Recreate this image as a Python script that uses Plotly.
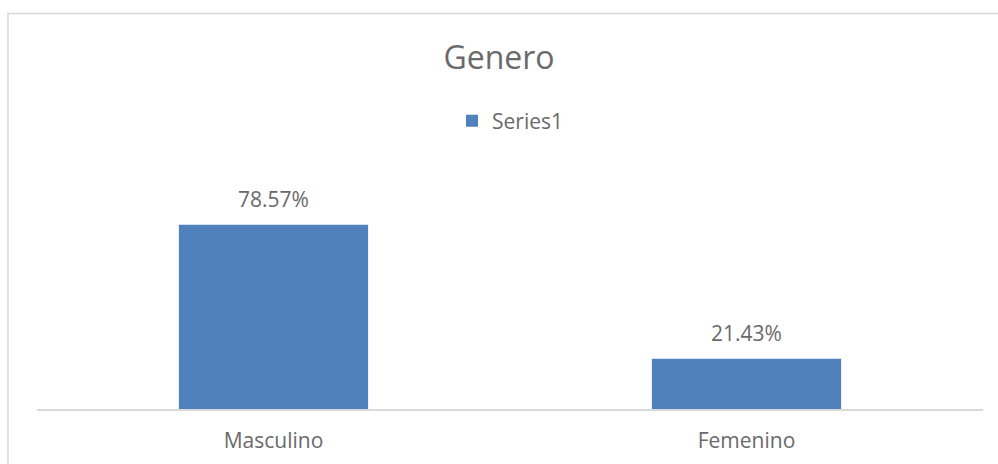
import plotly.graph_objects as go

# chart data
categories = ["Masculino", "Femenino"]
values = [78.57, 21.43]
series_name = "Series1"

BAR_COLOR = "#4f81bd"
TEXT_COLOR = "#6a6a6a"
LINE_COLOR = "#d9d9d9"
FONT = "Open Sans, Noto Sans, sans-serif"

fig = go.Figure()
fig.add_trace(go.Bar(
    x=categories,
    y=values,
    name=series_name,
    marker=dict(color=BAR_COLOR, line=dict(width=0)),
    showlegend=True,
))

# data labels above bars
for cat, val in zip(categories, values):
    fig.add_annotation(
        x=cat, y=val, text=f"{val:.2f}%",
        showarrow=False, yanchor="middle", yshift=26,
        font=dict(size=21, color=TEXT_COLOR, family=FONT),
    )

# chart border
fig.add_shape(
    type="rect", xref="paper", yref="paper",
    x0=-0.0307, x1=1.2, y0=-0.6, y1=1.874,
    line=dict(color=LINE_COLOR, width=1.5),
    fillcolor="rgba(0,0,0,0)", layer="below",
)

fig.update_layout(
    width=998, height=464,
    margin=dict(l=37, r=15, t=198, b=55),
    paper_bgcolor="white",
    plot_bgcolor="white",
    bargap=0.6,
    font=dict(family=FONT, color=TEXT_COLOR),
    title=dict(
        text="Genero", x=0.5, xanchor="center",
        y=1 - 58 / 464, yanchor="middle", yref="container",
        font=dict(size=32, color=TEXT_COLOR, family=FONT),
    ),
    legend=dict(
        orientation="h", x=0.5, xanchor="center",
        y=1.365, yanchor="middle",
        font=dict(size=21, color=TEXT_COLOR, family=FONT),
        itemwidth=30,
    ),
    xaxis=dict(
        showline=True, linecolor=LINE_COLOR, linewidth=1.5,
        showgrid=False, ticks="", ticklabelstandoff=12, automargin=False,
        tickfont=dict(size=21, color=TEXT_COLOR, family=FONT),
    ),
    yaxis=dict(
        range=[0, 90], visible=False, showgrid=False, zeroline=False,
        automargin=False,
    ),
)

fig.write_html(
    "out.html",
    config={"displayModeBar": False},
    post_script="document.body.style.margin='0';",
)
